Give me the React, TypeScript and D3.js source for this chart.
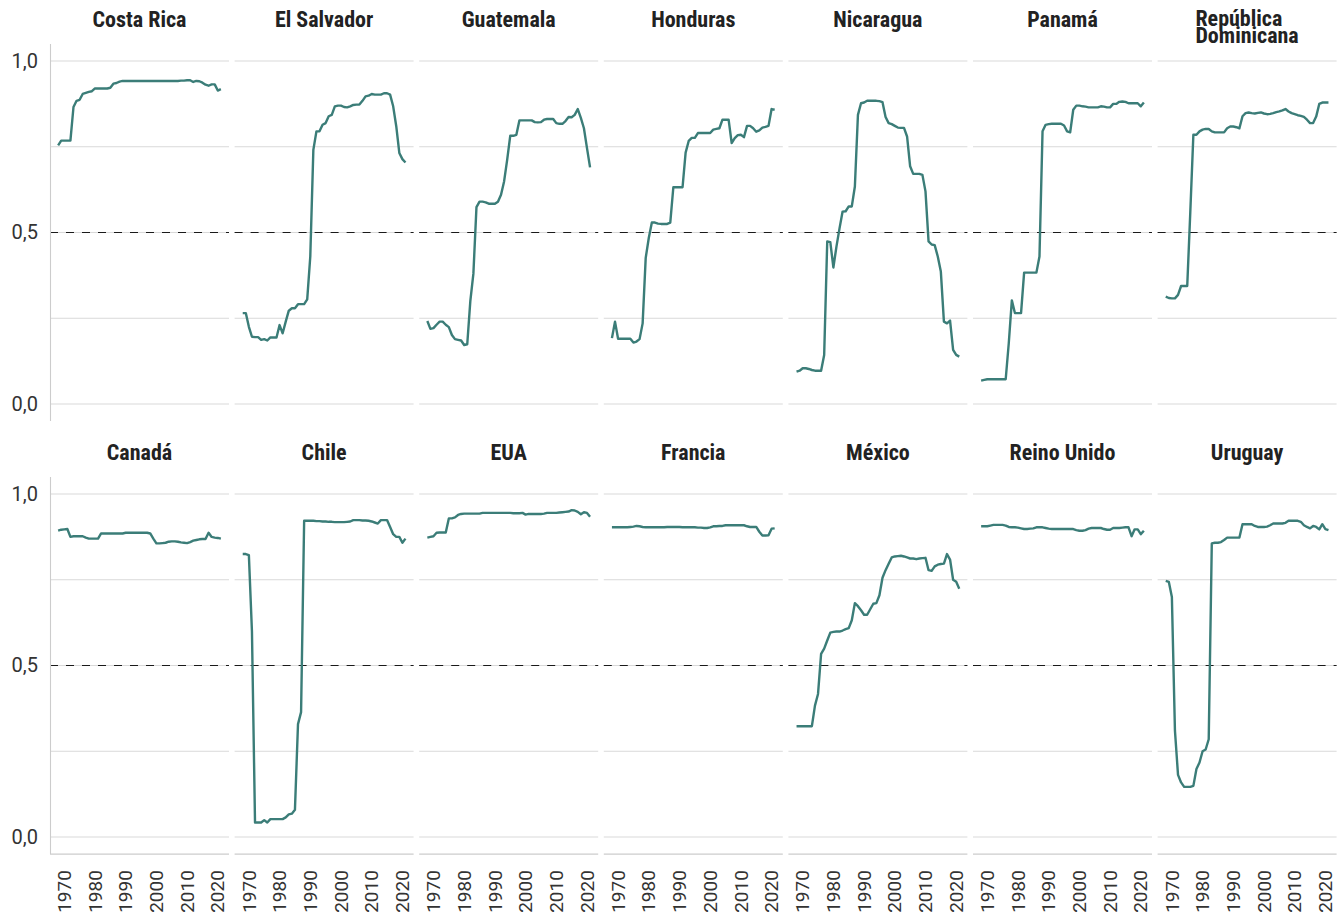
import { useEffect } from 'react';
import * as d3 from 'd3';

const years = [
  1968, 1969, 1970, 1971, 1972, 1973, 1974, 1975, 1976, 1977, 1978, 1979, 1980, 1981,
  1982, 1983, 1984, 1985, 1986, 1987, 1988, 1989, 1990, 1991, 1992, 1993, 1994, 1995,
  1996, 1997, 1998, 1999, 2000, 2001, 2002, 2003, 2004, 2005, 2006, 2007, 2008, 2009,
  2010, 2011, 2012, 2013, 2014, 2015, 2016, 2017, 2018, 2019, 2020, 2021,
];

const costaRica = [
  0.754, 0.768, 0.768, 0.768, 0.768, 0.866, 0.884, 0.887, 0.904, 0.907, 0.91, 0.912, 0.92, 0.92,
  0.92, 0.92, 0.92, 0.922, 0.934, 0.936, 0.94, 0.942, 0.942, 0.942, 0.942, 0.942, 0.942, 0.942,
  0.942, 0.942, 0.942, 0.942, 0.942, 0.942, 0.942, 0.942, 0.942, 0.942, 0.942, 0.942, 0.943, 0.943,
  0.944, 0.944, 0.939, 0.942, 0.941, 0.937, 0.931, 0.928, 0.932, 0.932, 0.914, 0.918,
];
const elSalvador = [
  0.265, 0.265, 0.225, 0.196, 0.195, 0.195, 0.187, 0.189, 0.185, 0.194, 0.194, 0.194, 0.23, 0.206,
  0.24, 0.272, 0.279, 0.279, 0.291, 0.291, 0.291, 0.305, 0.43, 0.741, 0.795, 0.795, 0.814, 0.819,
  0.839, 0.843, 0.868, 0.87, 0.87, 0.866, 0.865, 0.868, 0.872, 0.873, 0.873, 0.884, 0.897, 0.899,
  0.904, 0.902, 0.902, 0.902, 0.906, 0.906, 0.902, 0.868, 0.81, 0.732, 0.714, 0.704,
];
const guatemala = [
  0.242, 0.219, 0.221, 0.231, 0.24, 0.24, 0.231, 0.224, 0.201, 0.189, 0.187, 0.185, 0.172, 0.174,
  0.3, 0.38, 0.574, 0.59, 0.59, 0.588, 0.584, 0.584, 0.584, 0.59, 0.61, 0.649, 0.712, 0.782,
  0.782, 0.785, 0.827, 0.827, 0.827, 0.827, 0.827, 0.822, 0.821, 0.822, 0.829, 0.831, 0.831, 0.831,
  0.819, 0.817, 0.817, 0.825, 0.837, 0.836, 0.843, 0.86, 0.834, 0.804, 0.746, 0.69,
];
const honduras = [
  0.192, 0.24, 0.19, 0.19, 0.19, 0.19, 0.19, 0.179, 0.182, 0.189, 0.235, 0.426, 0.484, 0.529,
  0.529, 0.526, 0.525, 0.525, 0.525, 0.529, 0.632, 0.632, 0.632, 0.632, 0.733, 0.767, 0.776, 0.776,
  0.79, 0.79, 0.79, 0.79, 0.79, 0.8, 0.802, 0.804, 0.829, 0.829, 0.829, 0.761, 0.775, 0.784,
  0.785, 0.778, 0.811, 0.811, 0.804, 0.794, 0.798, 0.806, 0.808, 0.811, 0.86, 0.858,
];
const nicaragua = [
  0.094, 0.097, 0.104, 0.104, 0.102, 0.099, 0.097, 0.097, 0.097, 0.143, 0.474, 0.472, 0.398, 0.459,
  0.512, 0.561, 0.562, 0.576, 0.576, 0.634, 0.843, 0.877, 0.879, 0.884, 0.884, 0.884, 0.884, 0.883,
  0.88, 0.837, 0.819, 0.816, 0.811, 0.806, 0.805, 0.805, 0.78, 0.693, 0.671, 0.671, 0.671, 0.668,
  0.62, 0.474, 0.465, 0.463, 0.43, 0.386, 0.24, 0.235, 0.243, 0.158, 0.143, 0.138,
];
const panama = [
  0.068, 0.07, 0.072, 0.072, 0.072, 0.072, 0.072, 0.072, 0.072, 0.177, 0.302, 0.265, 0.265, 0.265,
  0.383, 0.383, 0.383, 0.383, 0.383, 0.43, 0.795, 0.814, 0.816, 0.817, 0.817, 0.817, 0.817, 0.812,
  0.795, 0.792, 0.858, 0.87, 0.87, 0.868, 0.867, 0.865, 0.865, 0.865, 0.865, 0.868, 0.867, 0.865,
  0.865, 0.875, 0.875, 0.881, 0.882, 0.881, 0.877, 0.877, 0.877, 0.877, 0.868, 0.879,
];
const republicaDominicana = [
  0.313, 0.309, 0.308, 0.308, 0.318, 0.344, 0.344, 0.344, 0.56, 0.785, 0.785, 0.795, 0.8, 0.802,
  0.802, 0.795, 0.792, 0.792, 0.792, 0.792, 0.804, 0.809, 0.809, 0.807, 0.804, 0.839, 0.848, 0.85,
  0.848, 0.847, 0.849, 0.85, 0.847, 0.845, 0.846, 0.848, 0.851, 0.853, 0.856, 0.86, 0.853, 0.848,
  0.845, 0.842, 0.84, 0.837, 0.829, 0.819, 0.819, 0.838, 0.875, 0.879, 0.879, 0.879,
];
const canada = [
  0.893, 0.896, 0.897, 0.898, 0.875, 0.877, 0.877, 0.877, 0.877, 0.873, 0.87, 0.87, 0.87, 0.87,
  0.885, 0.885, 0.885, 0.885, 0.885, 0.885, 0.885, 0.885, 0.887, 0.887, 0.887, 0.887, 0.887, 0.887,
  0.887, 0.887, 0.885, 0.87, 0.856, 0.856, 0.857, 0.858, 0.861, 0.862, 0.862, 0.861, 0.859, 0.858,
  0.857, 0.86, 0.864, 0.866, 0.868, 0.869, 0.869, 0.887, 0.875, 0.873, 0.872, 0.87,
];
const chile = [
  0.825, 0.825, 0.822, 0.6, 0.042, 0.042, 0.042, 0.049, 0.042, 0.052, 0.052, 0.052, 0.052, 0.052,
  0.057, 0.066, 0.068, 0.079, 0.329, 0.364, 0.922, 0.922, 0.922, 0.922, 0.921, 0.921, 0.92, 0.92,
  0.919, 0.919, 0.918, 0.918, 0.918, 0.918, 0.919, 0.92, 0.924, 0.924, 0.924, 0.923, 0.923, 0.922,
  0.92, 0.917, 0.914, 0.924, 0.924, 0.924, 0.904, 0.883, 0.875, 0.875, 0.858, 0.87,
];
const eua = [
  0.873, 0.875, 0.877, 0.887, 0.888, 0.888, 0.888, 0.929, 0.929, 0.932, 0.939, 0.942, 0.943, 0.943,
  0.943, 0.943, 0.943, 0.943, 0.945, 0.945, 0.945, 0.945, 0.945, 0.945, 0.945, 0.945, 0.945, 0.945,
  0.944, 0.944, 0.944, 0.945, 0.94, 0.942, 0.942, 0.942, 0.942, 0.942, 0.943, 0.945, 0.945, 0.945,
  0.945, 0.946, 0.947, 0.948, 0.949, 0.953, 0.952, 0.948, 0.941, 0.947, 0.945, 0.934,
];
const francia = [
  0.903, 0.903, 0.903, 0.903, 0.903, 0.903, 0.904, 0.905, 0.907, 0.906, 0.904, 0.903, 0.903, 0.903,
  0.903, 0.903, 0.903, 0.903, 0.904, 0.904, 0.904, 0.904, 0.904, 0.903, 0.903, 0.903, 0.903, 0.903,
  0.902, 0.902, 0.901, 0.901, 0.903, 0.906, 0.906, 0.907, 0.907, 0.909, 0.909, 0.909, 0.909, 0.909,
  0.909, 0.909, 0.906, 0.904, 0.904, 0.904, 0.89, 0.879, 0.879, 0.88, 0.899, 0.9,
];
const mexico = [
  0.323, 0.323, 0.323, 0.323, 0.323, 0.323, 0.383, 0.417, 0.534, 0.549, 0.573, 0.596, 0.598, 0.599,
  0.599, 0.602, 0.606, 0.609, 0.632, 0.682, 0.673, 0.661, 0.648, 0.648, 0.664, 0.68, 0.682, 0.705,
  0.756, 0.778, 0.797, 0.815, 0.818, 0.819, 0.82, 0.818, 0.815, 0.812, 0.812, 0.81, 0.812, 0.813,
  0.814, 0.778, 0.776, 0.789, 0.794, 0.796, 0.797, 0.825, 0.809, 0.75, 0.744, 0.724,
];
const reinoUnido = [
  0.906, 0.906, 0.906, 0.908, 0.91, 0.91, 0.91, 0.91, 0.908, 0.904, 0.903, 0.903, 0.902, 0.9,
  0.898, 0.898, 0.899, 0.9, 0.903, 0.903, 0.903, 0.901, 0.899, 0.898, 0.898, 0.898, 0.898, 0.898,
  0.898, 0.898, 0.898, 0.895, 0.893, 0.893, 0.895, 0.899, 0.901, 0.901, 0.901, 0.901, 0.898, 0.896,
  0.896, 0.901, 0.901, 0.901, 0.902, 0.903, 0.903, 0.877, 0.897, 0.897, 0.883, 0.893,
];
const uruguay = [
  0.747, 0.744, 0.7, 0.31, 0.181, 0.159, 0.146, 0.146, 0.146, 0.149, 0.198, 0.217, 0.25, 0.255,
  0.285, 0.856, 0.858, 0.858, 0.86, 0.866, 0.873, 0.873, 0.873, 0.873, 0.873, 0.912, 0.912, 0.912,
  0.912, 0.907, 0.904, 0.904, 0.904, 0.905, 0.909, 0.914, 0.914, 0.914, 0.914, 0.916, 0.922, 0.922,
  0.922, 0.922, 0.919, 0.909, 0.904, 0.9, 0.907, 0.904, 0.897, 0.912, 0.898, 0.895,
];

const topRow = [
  { name: 'Costa Rica', values: costaRica },
  { name: 'El Salvador', values: elSalvador },
  { name: 'Guatemala', values: guatemala },
  { name: 'Honduras', values: honduras },
  { name: 'Nicaragua', values: nicaragua },
  { name: 'Panamá', values: panama },
  { name: 'República\nDominicana', values: republicaDominicana },
];
const bottomRow = [
  { name: 'Canadá', values: canada },
  { name: 'Chile', values: chile },
  { name: 'EUA', values: eua },
  { name: 'Francia', values: francia },
  { name: 'México', values: mexico },
  { name: 'Reino Unido', values: reinoUnido },
  { name: 'Uruguay', values: uruguay },
];

const yTicks = [0, 0.5, 1];
const yGrid = [0, 0.25, 0.5, 0.75, 1];
const xTicks = [1970, 1980, 1990, 2000, 2010, 2020];
const threshold = 0.5;

const WIDTH = 1343;
const HEIGHT = 915;
const LEFT0 = 50;
const STEP = 184.6;
const PW = 179;
const PH = 377.2;
const ROW_TOPS = [43.9, 476.9];

const LINE_COLOR = '#3b7d78';
const GRID_COLOR = '#d9d9d9';
const TITLE_FONT = "'Liberation Sans Narrow', 'Roboto Condensed', Roboto, sans-serif";
const TICK_FONT = "Roboto, 'Noto Sans', sans-serif";

function measure(text: string, font: string) {
  const ctx = document.createElement('canvas').getContext('2d');
  if (!ctx) return text.length * 10;
  ctx.font = font;
  return ctx.measureText(text).width;
}

export default function App() {
  useEffect(() => {
    document.body.style.margin = '0';
  }, []);

  const ext = d3.extent(years) as [number, number];
  const pad = (ext[1] - ext[0]) * 0.05;
  const x = d3.scaleLinear().domain([ext[0] - pad, ext[1] + pad]).range([0, PW]);
  const y = d3.scaleLinear().domain([-0.05, 1.05]).range([PH, 0]);

  const line = d3
    .line<number>()
    .x((_, i) => x(years[i]))
    .y((d) => y(d));

  const rows = [topRow, bottomRow];

  return (
    <svg width={WIDTH} height={HEIGHT} style={{ display: 'block', background: '#fff' }}>
      {rows.map((row, r) =>
        row.map((country, c) => {
          const left = LEFT0 + c * STEP;
          const top = ROW_TOPS[r];
          const lines = country.name.split('\n');
          const titleFont = `bold 22px ${TITLE_FONT}`;
          const blockW = d3.max(lines, (l) => measure(l, titleFont)) || 0;
          const titleBase = lines.length > 1 ? top - 18 : top - 17;
          return (
            <g key={country.name} transform={`translate(${left},${top})`}>
              {/* strip title (multi-line titles are left-aligned, block centred) */}
              <text
                fontFamily={TITLE_FONT}
                fontWeight="bold"
                fontSize={22}
                fill="#222"
                textAnchor={lines.length > 1 ? 'start' : 'middle'}
              >
                {lines.map((l, i) => (
                  <tspan
                    key={l}
                    x={lines.length > 1 ? PW / 2 - blockW / 2 : PW / 2}
                    y={titleBase - top + i * 17.5}
                  >
                    {l}
                  </tspan>
                ))}
              </text>

              {yGrid.map((t) => (
                <line
                  key={t}
                  x1={0}
                  x2={PW}
                  y1={y(t)}
                  y2={y(t)}
                  stroke={GRID_COLOR}
                  strokeWidth={1.1}
                />
              ))}
              <line
                x1={0}
                x2={PW}
                y1={y(threshold)}
                y2={y(threshold)}
                stroke="#1a1a1a"
                strokeWidth={1.2}
                strokeDasharray="8 8"
              />

              {c === 0 && (
                <line x1={0.5} x2={0.5} y1={0} y2={PH} stroke="#cccccc" strokeWidth={1.1} />
              )}
              {r === 1 && (
                <line x1={0} x2={PW} y1={PH} y2={PH} stroke="#cccccc" strokeWidth={1.1} />
              )}

              <path
                d={line(country.values) || ''}
                fill="none"
                stroke={LINE_COLOR}
                strokeWidth={2.4}
                strokeLinejoin="round"
              />

              {c === 0 &&
                yTicks.map((t) => (
                  <text
                    key={t}
                    x={-12}
                    y={y(t)}
                    dy="0.35em"
                    textAnchor="end"
                    fontFamily={TICK_FONT}
                    fontSize={20}
                    fill="#333"
                  >
                    {d3.format('.1f')(t).replace('.', ',')}
                  </text>
                ))}

              {r === 1 &&
                xTicks.map((t) => (
                  <text
                    key={t}
                    transform={`translate(${x(t)},${PH + 16}) rotate(-90)`}
                    dy="0.35em"
                    textAnchor="end"
                    fontFamily={TICK_FONT}
                    fontSize={19}
                    fill="#333"
                  >
                    {t}
                  </text>
                ))}
            </g>
          );
        })
      )}
    </svg>
  );
}
